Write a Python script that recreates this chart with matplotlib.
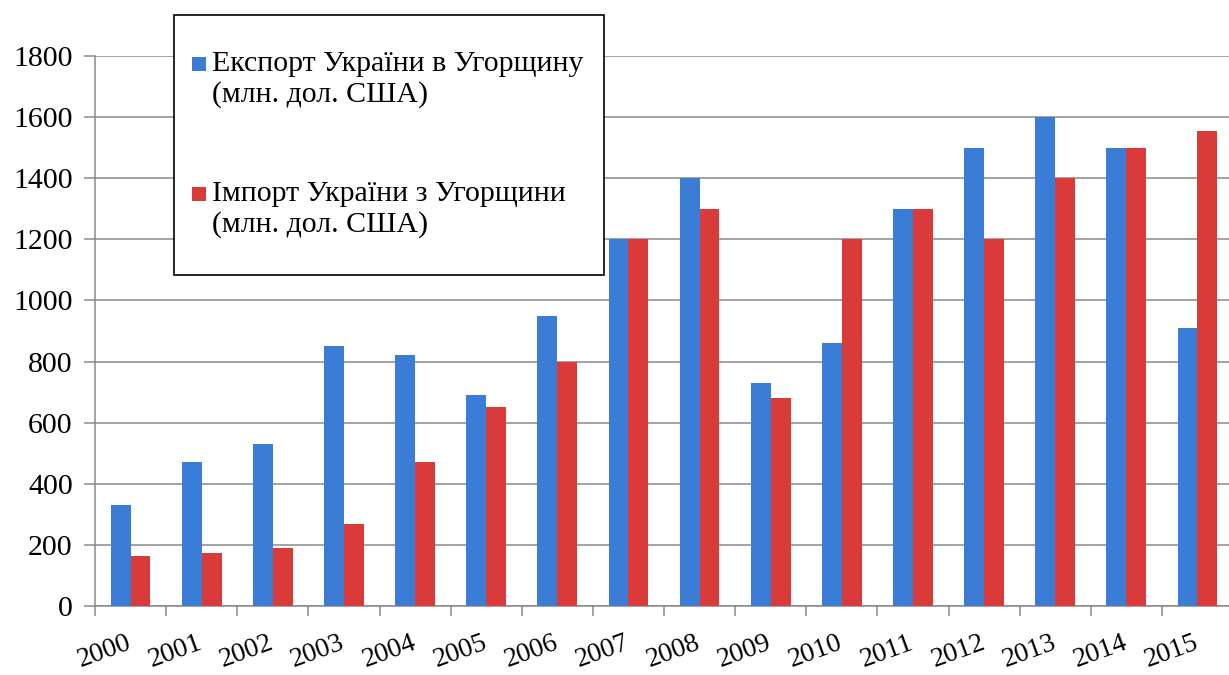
import numpy as np
import matplotlib
matplotlib.use("Agg")
import matplotlib.pyplot as plt
from matplotlib.patches import Rectangle

years = [str(y) for y in range(2000, 2016)]
export_ua = [330, 470, 530, 850, 820, 690, 950, 1200, 1400, 730, 860, 1300, 1500, 1600, 1500, 910]
import_ua = [165, 175, 190, 270, 470, 650, 800, 1200, 1300, 680, 1200, 1300, 1200, 1400, 1500, 1555]
yticks = list(range(0, 1801, 200))

label_exp = "Експорт України в Угорщину\n(млн. дол. США)"
label_imp = "Імпорт України з Угорщини\n(млн. дол. США)"

blue = "#3b7dd6"
red = "#d93a3a"
grid_c = "#8a8a8a"

plt.rcParams['font.family'] = ['Liberation Serif', 'DejaVu Serif']

W, H = 1229, 675
fig = plt.figure(figsize=(W / 100, H / 100), dpi=100)
ax = fig.add_axes([95 / W, 1 - 606 / H, 1138 / W, 550 / H])

x = np.arange(len(years))
bw = 0.28
ax.bar(x - bw / 2, export_ua, bw, color=blue, zorder=3)
ax.bar(x + bw / 2, import_ua, bw, color=red, zorder=3)

ax.set_xlim(-0.5, len(years) - 0.5)
ax.set_ylim(0, 1800)
ax.set_yticks(yticks)
ax.set_yticklabels([str(v) for v in yticks], fontsize=21.5)
ax.yaxis.grid(True, color=grid_c, lw=1.1, zorder=0)
ax.tick_params(axis='y', length=8, width=1.1, color=grid_c, pad=8)

# ticks between categories, labels at centres
ax.set_xticks(np.arange(-0.5, len(years)), minor=False)
ax.set_xticklabels([])
ax.set_xticks(x, minor=True)
ax.set_xticklabels(years, minor=True, fontsize=20, rotation=20,
                   ha='right', va='center', rotation_mode='anchor')
ax.tick_params(axis='x', which='major', length=7, width=1.1, color=grid_c)
ax.tick_params(axis='x', which='minor', length=0, pad=26)

for s in ['top', 'right']:
    ax.spines[s].set_visible(False)
for s in ['left', 'bottom']:
    ax.spines[s].set_color(grid_c)
    ax.spines[s].set_linewidth(1.1)

# legend box
fig.patches.append(Rectangle((174 / W, 1 - 275 / H), 430 / W, 260 / H,
                             transform=fig.transFigure, facecolor='white',
                             edgecolor='black', lw=1.2, zorder=10))
for top, col, lab in [(57, blue, label_exp), (187, red, label_imp)]:
    fig.patches.append(Rectangle((192 / W, 1 - (top + 14) / H), 14 / W, 14 / H,
                                 transform=fig.transFigure, facecolor=col,
                                 edgecolor='none', zorder=11))
    fig.text(212 / W, 1 - (top - 6) / H, lab, fontsize=21.5, va='top',
             ha='left', linespacing=1.22, zorder=12)

fig.savefig("out.png", dpi=100, facecolor='white')
